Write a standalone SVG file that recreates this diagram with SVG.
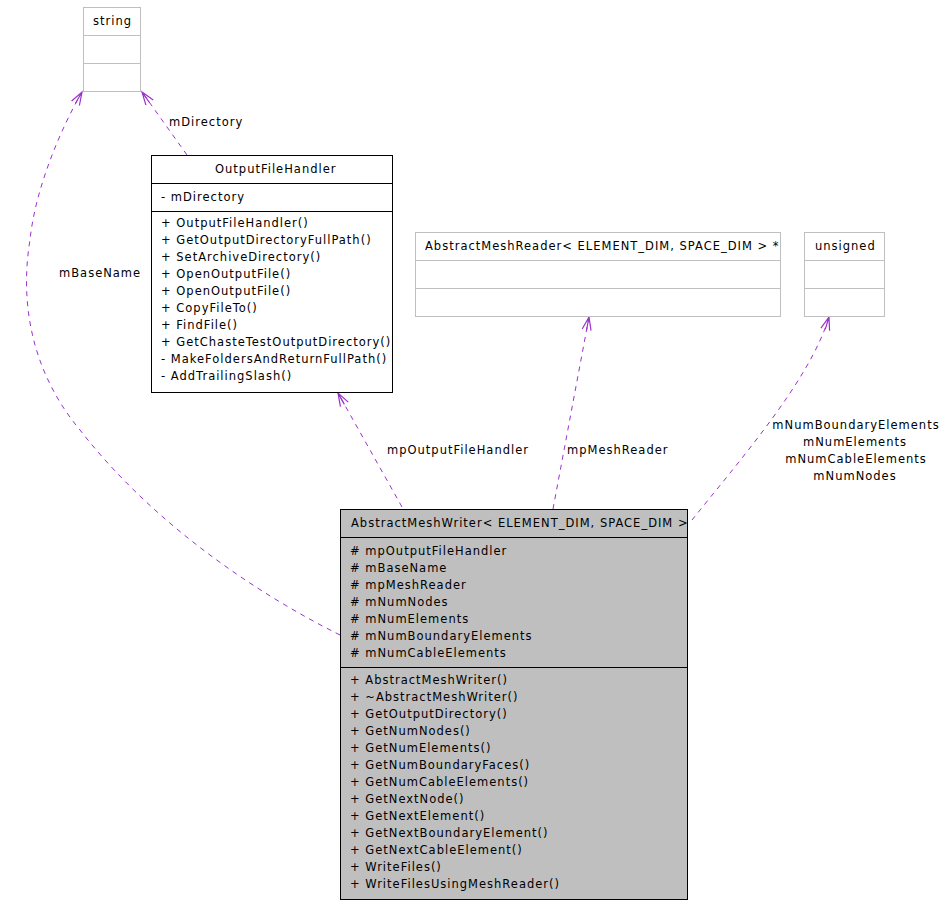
<svg xmlns="http://www.w3.org/2000/svg" width="941" height="904" viewBox="0 0 941 904">
<style>
text { font-family: "DejaVu Sans", "Liberation Sans", sans-serif; font-size: 11.5px; letter-spacing: 1px; fill: #000; }
.ext { fill: #fff; stroke: #bfbfbf; stroke-width: 1; }
.extl { stroke: #bfbfbf; stroke-width: 1; }
.cls { fill: #fff; stroke: #000; stroke-width: 1; }
.main { fill: #bfbfbf; stroke: #000; stroke-width: 1; }
.ln { stroke: #000; stroke-width: 1; }
.edge { fill: none; stroke: #9a32cd; stroke-width: 1; stroke-dasharray: 5,5; marker-end: url(#arr); }
.mid { text-anchor: middle; }
</style>
<defs>
<marker id="arr" markerUnits="userSpaceOnUse" markerWidth="16" markerHeight="12" refX="14" refY="6" orient="auto">
<path d="M1,1.5 L14,6 L1,10.5 M1,6 L14,6" fill="none" stroke="#9a32cd" stroke-width="1.2"/>
</marker>
</defs>
<rect width="941" height="904" fill="#fff"/>

<g id="edges">
<path class="edge" d="M340,635 C250,590 150,520 80,430 C30,370 20,300 30,240 C35,190 60,130 82,92"/>
<path class="edge" d="M187,155 L142,92"/>
<path class="edge" d="M402,507 L338,393"/>
<path class="edge" d="M553,509 L589,317"/>
<path class="edge" d="M692,520 C740,460 810,380 829,317"/>
<text x="59" y="277">mBaseName</text>
<text x="169" y="126">mDirectory</text>
<text x="387" y="454">mpOutputFileHandler</text>
<text x="567" y="454">mpMeshReader</text>
<text class="mid" x="856" y="429">mNumBoundaryElements</text>
<text class="mid" x="855" y="446">mNumElements</text>
<text class="mid" x="856" y="463">mNumCableElements</text>
<text class="mid" x="855" y="480">mNumNodes</text>
</g>

<g id="node-string">
<rect class="ext" x="83.5" y="7.5" width="57" height="84"/>
<line class="extl" x1="83.5" y1="35.5" x2="140.5" y2="35.5"/>
<line class="extl" x1="83.5" y1="63.5" x2="140.5" y2="63.5"/>
<text x="93" y="25">string</text>
</g>

<g id="node-OutputFileHandler">
<rect class="cls" x="151.5" y="155.5" width="241" height="237"/>
<line class="ln" x1="151.5" y1="183.5" x2="392.5" y2="183.5"/>
<line class="ln" x1="151.5" y1="211.5" x2="392.5" y2="211.5"/>
<text x="215" y="173">OutputFileHandler</text>
<text x="161" y="201">- mDirectory</text>
<text x="161" y="227">+ OutputFileHandler()</text>
<text x="161" y="244">+ GetOutputDirectoryFullPath()</text>
<text x="161" y="261">+ SetArchiveDirectory()</text>
<text x="161" y="278">+ OpenOutputFile()</text>
<text x="161" y="295">+ OpenOutputFile()</text>
<text x="161" y="312">+ CopyFileTo()</text>
<text x="161" y="329">+ FindFile()</text>
<text x="161" y="346">+ GetChasteTestOutputDirectory()</text>
<text x="161" y="363">- MakeFoldersAndReturnFullPath()</text>
<text x="161" y="380">- AddTrailingSlash()</text>
</g>

<g id="node-AbstractMeshReader">
<rect class="ext" x="415.5" y="232.5" width="365" height="84"/>
<line class="extl" x1="415.5" y1="260.5" x2="780.5" y2="260.5"/>
<line class="extl" x1="415.5" y1="288.5" x2="780.5" y2="288.5"/>
<text x="425" y="250">AbstractMeshReader&lt; ELEMENT_DIM, SPACE_DIM &gt; *</text>
</g>

<g id="node-unsigned">
<rect class="ext" x="804.5" y="232.5" width="80" height="84"/>
<line class="extl" x1="804.5" y1="260.5" x2="884.5" y2="260.5"/>
<line class="extl" x1="804.5" y1="288.5" x2="884.5" y2="288.5"/>
<text x="815" y="250">unsigned</text>
</g>

<g id="node-AbstractMeshWriter">
<rect class="main" x="340.5" y="509.5" width="347" height="390"/>
<line class="ln" x1="340.5" y1="537.5" x2="687.5" y2="537.5"/>
<line class="ln" x1="340.5" y1="667.5" x2="687.5" y2="667.5"/>
<text x="351" y="527">AbstractMeshWriter&lt; ELEMENT_DIM, SPACE_DIM &gt;</text>
<text x="350" y="555">#  mpOutputFileHandler</text>
<text x="350" y="572">#  mBaseName</text>
<text x="350" y="589">#  mpMeshReader</text>
<text x="350" y="606">#  mNumNodes</text>
<text x="350" y="623">#  mNumElements</text>
<text x="350" y="640">#  mNumBoundaryElements</text>
<text x="350" y="657">#  mNumCableElements</text>
<text x="350" y="684">+ AbstractMeshWriter()</text>
<text x="350" y="701">+ ~AbstractMeshWriter()</text>
<text x="350" y="718">+ GetOutputDirectory()</text>
<text x="350" y="735">+ GetNumNodes()</text>
<text x="350" y="752">+ GetNumElements()</text>
<text x="350" y="769">+ GetNumBoundaryFaces()</text>
<text x="350" y="786">+ GetNumCableElements()</text>
<text x="350" y="803">+ GetNextNode()</text>
<text x="350" y="820">+ GetNextElement()</text>
<text x="350" y="837">+ GetNextBoundaryElement()</text>
<text x="350" y="854">+ GetNextCableElement()</text>
<text x="350" y="871">+ WriteFiles()</text>
<text x="350" y="888">+ WriteFilesUsingMeshReader()</text>
</g>
</svg>
